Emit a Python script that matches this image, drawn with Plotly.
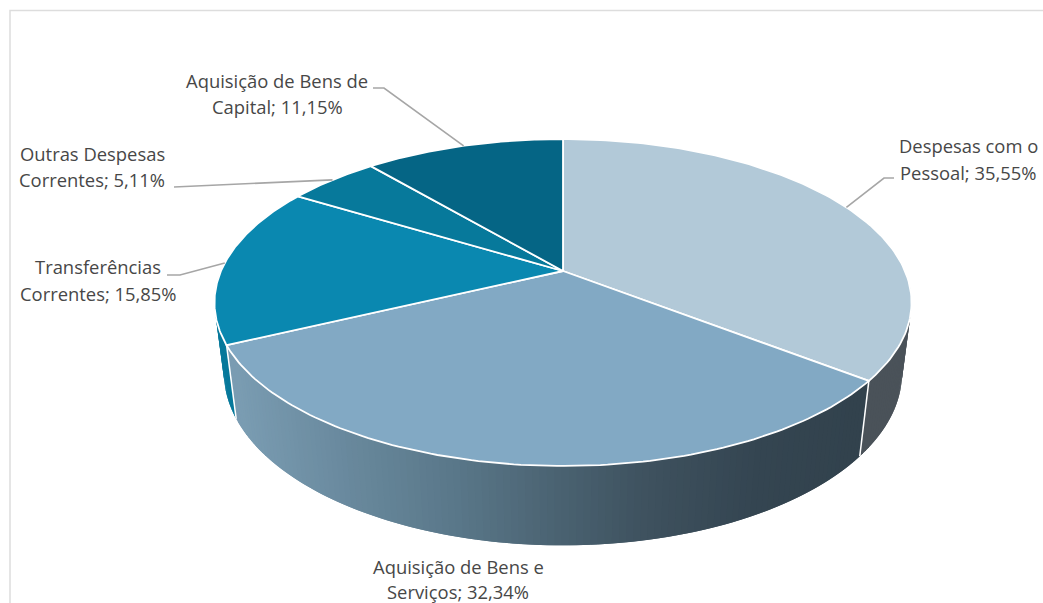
import numpy as np
import plotly.graph_objects as go

categories = ["Despesas com o Pessoal", "Aquisição de Bens e Serviços", "Transferências Correntes",
              "Outras Despesas Correntes", "Aquisição de Bens de Capital"]
values = [35.55, 32.34, 15.85, 5.11, 11.15]
top_colors = ["#B2C9D8", "#82A9C4", "#0A88B0", "#07799B", "#056585"]
label_lines = [["Despesas com o", "Pessoal; 35,55%"], ["Aquisição de Bens e", "Serviços; 32,34%"],
               ["Transferências", "Correntes; 15,85%"], ["Outras Despesas", "Correntes; 5,11%"],
               ["Aquisição de Bens de", "Capital; 11,15%"]]
label_pos = [(968, 145.5), (458, 566.5), (98, 266.5), (92, 153.5), (277, 80.5)]
label_step = [26.5, 24.5, 27, 26, 26]
leader_via = [[(884, 178), (894, 178)], None, [(180, 275), (167, 275)], [(185, 187), (174, 187)], [(384, 88), (373, 88)]]

CX, CY, A, B, K = 563.0, 271.0, 342.0, 157.4, 0.1927
DEPTH_D, DEPTH_C = 0.027, 71.5


def project(theta, low=False):
    X, Y = np.sin(theta), np.cos(theta)
    den = 1 + K * Y + (DEPTH_D if low else 0)
    return CX + A * X / den, CY - B * Y / den + (DEPTH_C / den if low else 0)


def lerp_color(stops, x):
    xs = [s[0] for s in stops]
    rgb = [np.interp(x, xs, [s[1][i] for s in stops]) for i in range(3)]
    return "rgb(%d,%d,%d)" % tuple(int(round(v)) for v in rgb)


wall_stops = [(235, (122, 156, 178)), (350, (104, 136, 156)), (450, (90, 120, 138)),
              (560, (74, 98, 113)), (650, (62, 81, 94)), (760, (52, 69, 81)), (860, (50, 66, 77))]

fractions = np.cumsum([0] + values) / sum(values)
angles = fractions * 2 * np.pi
fig = go.Figure()


def poly(xs, ys, color, line_color=None, width=0.0):
    fig.add_trace(go.Scatter(x=list(xs), y=list(ys), mode="lines", fill="toself", fillcolor=color,
                             line=dict(color=line_color or color, width=width), hoverinfo="skip", showlegend=False))


# side walls: each strip overlaps the next so no seams show
def wall(t0, t1, color_fn, step=np.radians(1.0)):
    n = max(2, int(abs(t1 - t0) / step))
    ts = np.linspace(t0, t1, n + 1)
    for k in range(n):
        sub = np.linspace(ts[k], ts[min(k + 2, n)], 4)
        xt, yt = project(sub)
        xb, yb = project(sub[::-1], True)
        xm = (project(ts[k])[0] + project(ts[k + 1])[0]) / 2
        poly(np.r_[xt, xb, xt[0]], np.r_[yt, yb, yt[0]], color_fn(xm))


wall(np.radians(95), angles[1], lambda x: "#4A5259")
wall(np.radians(272), angles[2], lambda x: "#07799B")
wall(angles[2], angles[1], lambda x: lerp_color(wall_stops, x))

# white edges between wall segments
for t in (angles[1], angles[2]):
    x0, y0 = project(t)
    x1, y1 = project(t, True)
    fig.add_trace(go.Scatter(x=[x0, x1], y=[y0, y1], mode="lines", line=dict(color="white", width=1.5),
                             hoverinfo="skip", showlegend=False))

# top face
for i, c in enumerate(top_colors):
    ts = np.linspace(angles[i], angles[i + 1], 120)
    xs, ys = project(ts)
    poly(np.r_[CX, xs, CX], np.r_[CY, ys, CY], c, "white", 1.8)

# leader lines
for i, via in enumerate(leader_via):
    if via is None:
        continue
    xm, ym = project((angles[i] + angles[i + 1]) / 2)
    fig.add_trace(go.Scatter(x=[xm] + [p[0] for p in via], y=[ym] + [p[1] for p in via], mode="lines",
                             line=dict(color="#A6A6A6", width=1.6), hoverinfo="skip", showlegend=False))

annotations = []
for p, lines, step in zip(label_pos, label_lines, label_step):
    for j, line in enumerate(lines):
        annotations.append(dict(x=p[0], y=p[1] + j * step, xref="x", yref="y", text=line, showarrow=False,
                                xanchor="center", yanchor="middle",
                                font=dict(family="Open Sans", size=18.4, color="#474747")))

fig.update_layout(
    width=1043, height=603, margin=dict(l=0, r=0, t=0, b=0), paper_bgcolor="white", plot_bgcolor="white",
    xaxis=dict(range=[0, 1043], visible=False, fixedrange=True),
    yaxis=dict(range=[603, 0], visible=False, fixedrange=True),
    annotations=annotations, showlegend=False,
    shapes=[dict(type="rect", xref="x", yref="y", x0=10, y0=10.5, x1=1060, y1=640, line=dict(color="#DDDDDD", width=1.5), layer="below")],
)
fig.write_html("out.html", post_script="document.body.style.margin='0';", config=dict(displayModeBar=False))
